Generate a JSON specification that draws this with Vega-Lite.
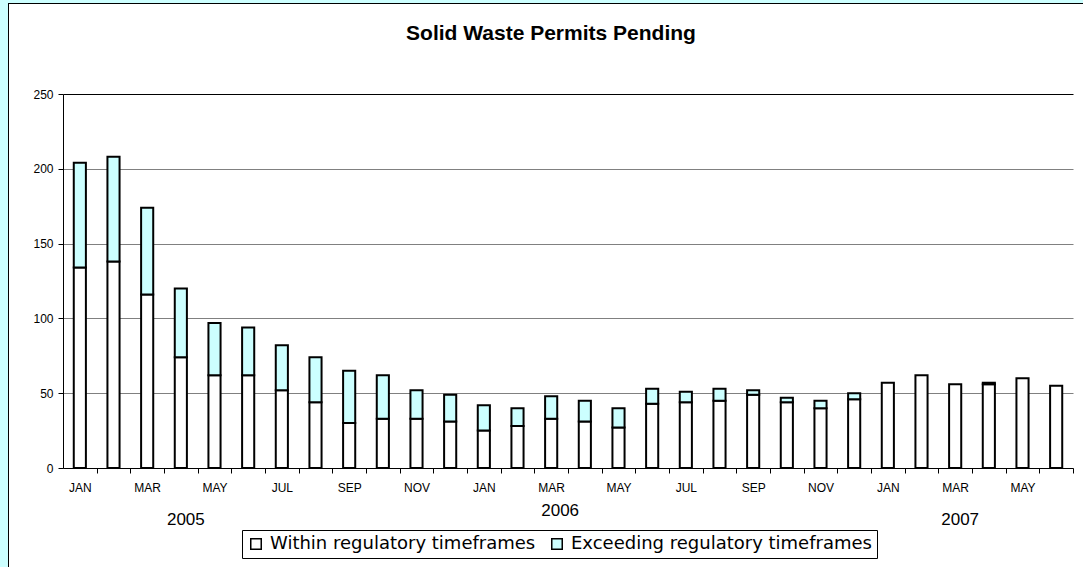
{
  "$schema": "https://vega.github.io/schema/vega-lite/v6.json",
  "background": "white",
  "padding": 0,
  "bounds": "flush",
  "spacing": 0,
  "config": {
    "view": {"stroke": null},
    "font": "Liberation Sans",
    "axis": {"labelFont": "Liberation Sans", "labelColor": "black", "domainColor": "black", "tickColor": "black", "title": null}
  },
  "datasets": {
    "permits": [
      {"month": "2005-01", "status": "Within regulatory timeframes", "count": 134},
      {"month": "2005-01", "status": "Exceeding regulatory timeframes", "count": 70},
      {"month": "2005-02", "status": "Within regulatory timeframes", "count": 138},
      {"month": "2005-02", "status": "Exceeding regulatory timeframes", "count": 70},
      {"month": "2005-03", "status": "Within regulatory timeframes", "count": 116},
      {"month": "2005-03", "status": "Exceeding regulatory timeframes", "count": 58},
      {"month": "2005-04", "status": "Within regulatory timeframes", "count": 74},
      {"month": "2005-04", "status": "Exceeding regulatory timeframes", "count": 46},
      {"month": "2005-05", "status": "Within regulatory timeframes", "count": 62},
      {"month": "2005-05", "status": "Exceeding regulatory timeframes", "count": 35},
      {"month": "2005-06", "status": "Within regulatory timeframes", "count": 62},
      {"month": "2005-06", "status": "Exceeding regulatory timeframes", "count": 32},
      {"month": "2005-07", "status": "Within regulatory timeframes", "count": 52},
      {"month": "2005-07", "status": "Exceeding regulatory timeframes", "count": 30},
      {"month": "2005-08", "status": "Within regulatory timeframes", "count": 44},
      {"month": "2005-08", "status": "Exceeding regulatory timeframes", "count": 30},
      {"month": "2005-09", "status": "Within regulatory timeframes", "count": 30},
      {"month": "2005-09", "status": "Exceeding regulatory timeframes", "count": 35},
      {"month": "2005-10", "status": "Within regulatory timeframes", "count": 33},
      {"month": "2005-10", "status": "Exceeding regulatory timeframes", "count": 29},
      {"month": "2005-11", "status": "Within regulatory timeframes", "count": 33},
      {"month": "2005-11", "status": "Exceeding regulatory timeframes", "count": 19},
      {"month": "2005-12", "status": "Within regulatory timeframes", "count": 31},
      {"month": "2005-12", "status": "Exceeding regulatory timeframes", "count": 18},
      {"month": "2006-01", "status": "Within regulatory timeframes", "count": 25},
      {"month": "2006-01", "status": "Exceeding regulatory timeframes", "count": 17},
      {"month": "2006-02", "status": "Within regulatory timeframes", "count": 28},
      {"month": "2006-02", "status": "Exceeding regulatory timeframes", "count": 12},
      {"month": "2006-03", "status": "Within regulatory timeframes", "count": 33},
      {"month": "2006-03", "status": "Exceeding regulatory timeframes", "count": 15},
      {"month": "2006-04", "status": "Within regulatory timeframes", "count": 31},
      {"month": "2006-04", "status": "Exceeding regulatory timeframes", "count": 14},
      {"month": "2006-05", "status": "Within regulatory timeframes", "count": 27},
      {"month": "2006-05", "status": "Exceeding regulatory timeframes", "count": 13},
      {"month": "2006-06", "status": "Within regulatory timeframes", "count": 43},
      {"month": "2006-06", "status": "Exceeding regulatory timeframes", "count": 10},
      {"month": "2006-07", "status": "Within regulatory timeframes", "count": 44},
      {"month": "2006-07", "status": "Exceeding regulatory timeframes", "count": 7},
      {"month": "2006-08", "status": "Within regulatory timeframes", "count": 45},
      {"month": "2006-08", "status": "Exceeding regulatory timeframes", "count": 8},
      {"month": "2006-09", "status": "Within regulatory timeframes", "count": 49},
      {"month": "2006-09", "status": "Exceeding regulatory timeframes", "count": 3},
      {"month": "2006-10", "status": "Within regulatory timeframes", "count": 44},
      {"month": "2006-10", "status": "Exceeding regulatory timeframes", "count": 3},
      {"month": "2006-11", "status": "Within regulatory timeframes", "count": 40},
      {"month": "2006-11", "status": "Exceeding regulatory timeframes", "count": 5},
      {"month": "2006-12", "status": "Within regulatory timeframes", "count": 46},
      {"month": "2006-12", "status": "Exceeding regulatory timeframes", "count": 4},
      {"month": "2007-01", "status": "Within regulatory timeframes", "count": 57},
      {"month": "2007-02", "status": "Within regulatory timeframes", "count": 62},
      {"month": "2007-03", "status": "Within regulatory timeframes", "count": 56},
      {"month": "2007-04", "status": "Within regulatory timeframes", "count": 56},
      {"month": "2007-04", "status": "Exceeding regulatory timeframes", "count": 1},
      {"month": "2007-05", "status": "Within regulatory timeframes", "count": 60},
      {"month": "2007-06", "status": "Within regulatory timeframes", "count": 55}
    ],
    "years": [
      {"month": "2005-04", "year": "2005"},
      {"month": "2007-03", "year": "2007"}
    ],
    "middleYear": [
      {"month": "2006-03", "year": "2006"}
    ],
    "none": []
  },
  "vconcat": [
    {
      "width": 1083,
      "height": 3,
      "view": {"fill": "#CCFFFF", "stroke": null},
      "data": {"name": "none"},
      "mark": "rect",
      "encoding": {}
    },
    {
      "bounds": "flush",
      "spacing": 0,
      "hconcat": [
        {
          "width": 8,
          "height": 564,
          "view": {"fill": "#CCFFFF", "stroke": null},
          "data": {"name": "none"},
          "mark": "rect",
          "encoding": {}
        },
        {
          "bounds": "flush",
          "spacing": 0,
          "vconcat": [
            {
              "width": 1075,
              "height": 1,
              "view": {"fill": "#000000", "stroke": null},
              "data": {"name": "none"},
              "mark": "rect",
              "encoding": {}
            },
            {
              "bounds": "flush",
              "spacing": 54,
              "hconcat": [
                {
                  "width": 1,
                  "height": 563,
                  "view": {"fill": "#000000", "stroke": null},
                  "data": {"name": "none"},
                  "mark": "rect",
                  "encoding": {}
                },
                {
                  "bounds": "flush",
                  "spacing": 89,
                  "vconcat": [
                    {
                      "width": 1010,
                      "height": 1,
                      "data": {"name": "none"},
                      "mark": "rect",
                      "encoding": {}
                    },
                    {
                      "width": 1010,
                      "height": 374,
                      "title": {
                        "text": "Solid Waste Permits Pending",
                        "fontSize": 21,
                        "fontWeight": "bold",
                        "font": "Liberation Sans",
                        "color": "black",
                        "anchor": "middle",
                        "dx": -17,
                        "offset": 44
                      },
                      "layer": [
                        {
                          "data": {"name": "permits"},
                          "mark": {"type": "bar", "stroke": "black", "strokeWidth": 2},
                          "encoding": {
                            "x": {
                              "field": "month",
                              "type": "ordinal",
                              "scale": {"paddingInner": 0.64, "paddingOuter": 0.32},
                              "axis": {
                                "labelAngle": 0,
                                "labelFontSize": 12,
                                "labelPadding": 9,
                                "bandPosition": 1,
                                "tickOffset": 10.8,
                                "labelOffset": -10.8,
                                "tickSize": 5,
                                "labelExpr": "toNumber(slice(datum.value, 5)) % 2 == 1 ? ['JAN','FEB','MAR','APR','MAY','JUN','JUL','AUG','SEP','OCT','NOV','DEC'][toNumber(slice(datum.value, 5)) - 1] : ''"
                              }
                            },
                            "y": {
                              "field": "count",
                              "type": "quantitative",
                              "stack": "zero",
                              "scale": {"domain": [0, 250], "nice": false},
                              "axis": {
                                "values": [0, 50, 100, 150, 200, 250],
                                "labelFontSize": 12,
                                "labelPadding": 5,
                                "tickSize": 5,
                                "grid": true,
                                "gridColor": {"condition": {"test": "datum.value == 250", "value": "#000000"}, "value": "#808080"},
                                "gridWidth": 1
                              }
                            },
                            "color": {
                              "field": "status",
                              "type": "nominal",
                              "scale": {
                                "domain": ["Within regulatory timeframes", "Exceeding regulatory timeframes"],
                                "range": ["#FFFFFF", "#CCFFFF"]
                              },
                              "legend": {
                                "title": null,
                                "orient": "none",
                                "legendX": 242,
                                "legendY": 530,
                                "direction": "horizontal",
                                "symbolType": "square",
                                "symbolSize": 110,
                                "symbolStrokeColor": "black",
                                "symbolStrokeWidth": 1.5,
                                "labelFont": "DejaVu Sans",
                                "labelFontSize": 18,
                                "labelColor": "black",
                                "labelOffset": 5,
                                "columnPadding": 12,
                                "padding": 5,
                                "fillColor": "white",
                                "strokeColor": "black",
                                "labelLimit": 400
                              }
                            },
                            "order": {"field": "status", "sort": "descending"}
                          }
                        },
                        {
                          "data": {"name": "years"},
                          "mark": {"type": "text", "fontSize": 17, "dx": 5, "dy": 52, "baseline": "middle", "color": "black"},
                          "encoding": {
                            "x": {"field": "month", "type": "ordinal"},
                            "y": {"datum": 0, "type": "quantitative"},
                            "text": {"field": "year"}
                          }
                        },
                        {
                          "data": {"name": "middleYear"},
                          "mark": {"type": "text", "fontSize": 17, "dx": 9, "dy": 43, "baseline": "middle", "color": "black"},
                          "encoding": {
                            "x": {"field": "month", "type": "ordinal"},
                            "y": {"datum": 0, "type": "quantitative"},
                            "text": {"field": "year"}
                          }
                        }
                      ]
                    }
                  ]
                }
              ]
            }
          ]
        }
      ]
    }
  ]
}
